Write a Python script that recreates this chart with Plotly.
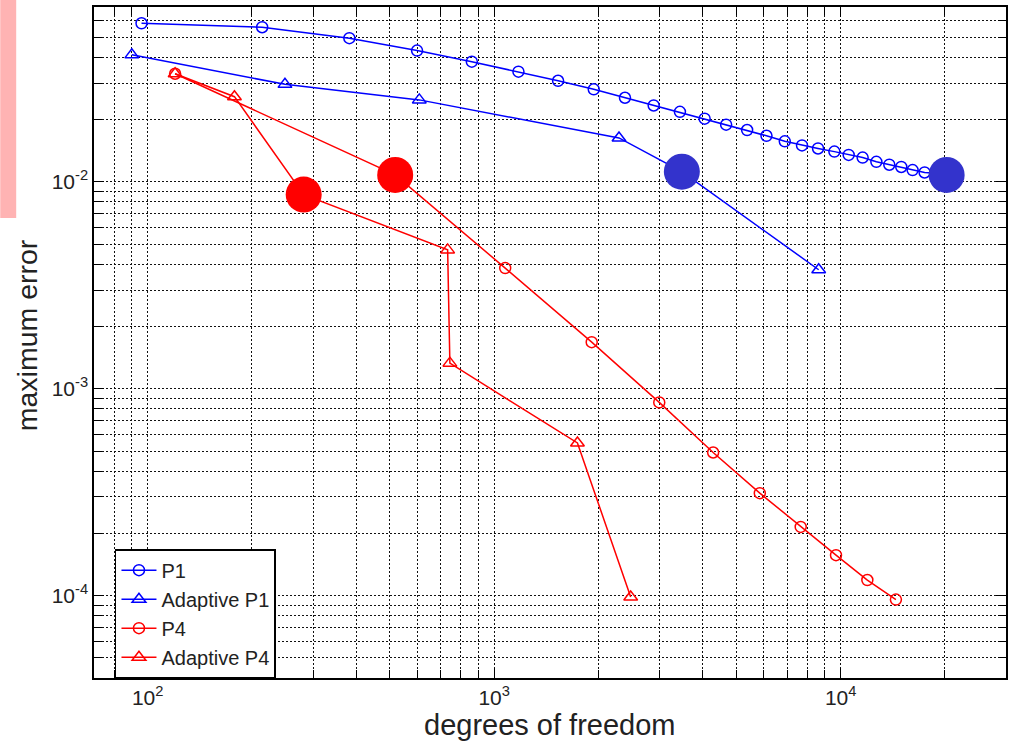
import plotly.graph_objects as go

# ---- data ----
p1_dof = [96, 214, 382, 599, 862, 1175, 1529, 1938, 2385, 2886, 3436, 4049, 4671, 5370,
          6107, 6897, 7735, 8603, 9590, 10546, 11571, 12676, 13814, 14958, 16128, 17467,
          18830, 20220]
p1_err = [0.0584, 0.0559, 0.0495, 0.0431, 0.0381, 0.0341, 0.0308, 0.0280, 0.0255, 0.0234,
          0.0218, 0.0202, 0.0189, 0.0178, 0.0167, 0.0157, 0.0150, 0.0145, 0.0140, 0.0135,
          0.0131, 0.0125, 0.0121, 0.0118, 0.0114, 0.0111, 0.0110, 0.0108]

ap1_dof = [90, 249, 608, 2292, 3480, 8640]
ap1_err = [0.0411, 0.0296, 0.0249, 0.0163, 0.0112, 0.00376]

p4_dof = [120, 518, 1076, 1912, 2995, 4285, 5842, 7667, 9694, 11938, 14434]
p4_err = [0.0333, 0.0108, 0.00383, 0.00168, 0.000859, 0.000492, 0.000313, 0.000215,
          0.000157, 0.000119, 0.0000957]

ap4_dof = [120, 178, 282, 734, 745, 1739, 2477]
ap4_err = [0.0333, 0.0258, 0.00868, 0.00469, 0.00133, 0.000547, 0.0000986]

hl_red_dof = [282, 518]
hl_red_err = [0.00868, 0.0108]
hl_blue_dof = [3480, 20220]
hl_blue_err = [0.0112, 0.0108]

x_major = [100, 1000, 10000]
x_major_text = ["10<sup>2</sup>", "10<sup>3</sup>", "10<sup>4</sup>"]
x_minor = [70, 80, 90, 200, 300, 400, 500, 600, 700, 800, 900,
           2000, 3000, 4000, 5000, 6000, 7000, 8000, 9000, 20000, 30000]
y_major = [1e-4, 1e-3, 1e-2]
y_major_text = ["10<sup>-4</sup>", "10<sup>-3</sup>", "10<sup>-2</sup>"]
y_minor = [4e-5, 5e-5, 6e-5, 7e-5, 8e-5, 9e-5,
           2e-4, 3e-4, 4e-4, 5e-4, 6e-4, 7e-4, 8e-4, 9e-4,
           2e-3, 3e-3, 4e-3, 5e-3, 6e-3, 7e-3, 8e-3, 9e-3,
           2e-2, 3e-2, 4e-2, 5e-2, 6e-2, 7e-2]

BLUE = "#0000FF"
RED = "#FF0000"
FONT = "Liberation Sans, Arial, sans-serif"
GRID = "#111111"
GRIDDASH = "2px,2px"

fig = go.Figure()
fig.add_trace(go.Scatter(x=p1_dof, y=p1_err, name="P1", mode="lines+markers",
                         line=dict(color=BLUE, width=1.5),
                         marker=dict(symbol="circle-open", size=11, color=BLUE, line=dict(width=1.5))))
fig.add_trace(go.Scatter(x=ap1_dof, y=ap1_err, name="Adaptive P1", mode="lines+markers",
                         line=dict(color=BLUE, width=1.5),
                         marker=dict(symbol="triangle-up-open", size=12, color=BLUE, line=dict(width=1.5))))
fig.add_trace(go.Scatter(x=p4_dof, y=p4_err, name="P4", mode="lines+markers",
                         line=dict(color=RED, width=1.5),
                         marker=dict(symbol="circle-open", size=11, color=RED, line=dict(width=1.5))))
fig.add_trace(go.Scatter(x=ap4_dof, y=ap4_err, name="Adaptive P4", mode="lines+markers",
                         line=dict(color=RED, width=1.5),
                         marker=dict(symbol="triangle-up-open", size=12, color=RED, line=dict(width=1.5))))
fig.add_trace(go.Scatter(x=hl_red_dof, y=hl_red_err, mode="markers", showlegend=False,
                         marker=dict(symbol="circle", size=36, color="#FF0000")))
fig.add_trace(go.Scatter(x=hl_blue_dof, y=hl_blue_err, mode="markers", showlegend=False,
                         marker=dict(symbol="circle", size=36, color="#3333CC")))

axis_common = dict(
    showline=True, linecolor="black", linewidth=1.5, mirror="allticks",
    ticks="inside", ticklen=10, tickwidth=1.2, tickcolor="black",
    showgrid=True, gridcolor=GRID, gridwidth=1, griddash=GRIDDASH,
    tickfont=dict(family=FONT, size=21, color="#222222"), zeroline=False,
)

fig.update_xaxes(type="log", range=[1.8451, 4.4771], tickmode="array",
                 tickvals=x_major, ticktext=x_major_text,
                 minor=dict(tickmode="array", tickvals=x_minor, ticks="inside", ticklen=8,
                            tickcolor="black", showgrid=True, gridcolor=GRID,
                            griddash=GRIDDASH, gridwidth=1),
                 **axis_common)
fig.update_yaxes(type="log", range=[-4.3979, -1.1549], tickmode="array",
                 tickvals=y_major, ticktext=y_major_text,
                 minor=dict(tickmode="array", tickvals=y_minor, ticks="inside", ticklen=8,
                            tickcolor="black", showgrid=True, gridcolor=GRID,
                            griddash=GRIDDASH, gridwidth=1),
                 **axis_common)

fig.update_layout(
    width=1009, height=742,
    margin=dict(l=94, r=1, t=7, b=64),
    paper_bgcolor="white", plot_bgcolor="white",
    font=dict(family=FONT, color="#222222"),
    legend=dict(x=0.023, y=0.192, xanchor="left", yanchor="top",
                bgcolor="white", bordercolor="black", borderwidth=1.5,
                font=dict(family=FONT, size=20, color="#222222"),
                tracegroupgap=0, itemwidth=35),
    annotations=[
        dict(text="degrees of freedom", xref="paper", yref="paper", x=0.499, y=-0.07,
             xanchor="center", yanchor="middle", showarrow=False,
             font=dict(family=FONT, size=29, color="#222222")),
        dict(text="maximum error", xref="paper", yref="paper", x=-0.0733, y=0.511,
             xanchor="center", yanchor="middle", showarrow=False, textangle=-90,
             font=dict(family=FONT, size=28.5, color="#222222")),
    ],
    shapes=[
        dict(type="rect", xref="paper", yref="paper", x0=-0.1028, x1=-0.0853,
             y0=0.6855, y1=1.0104, fillcolor="#FFB3B3", line=dict(width=0)),
    ],
)

fig.write_html("out.html", config={"displayModeBar": False},
               post_script="document.body.style.margin='0px';document.body.style.padding='0px';")
